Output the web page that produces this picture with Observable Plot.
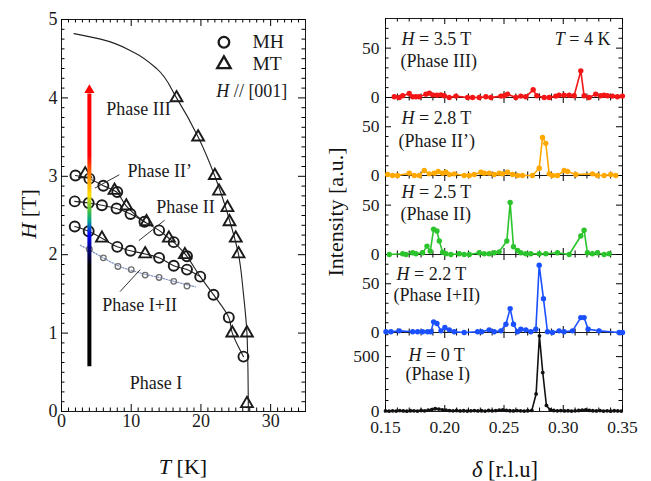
<!DOCTYPE html>
<html><head><meta charset="utf-8">
<script src="https://cdn.jsdelivr.net/npm/d3@7"></script>
<script src="https://cdn.jsdelivr.net/npm/@observablehq/plot@0.6"></script>
<style>
body{margin:0;background:#fff;}
#wrap{position:relative;width:651px;height:481px;font-family:"Liberation Serif","Times New Roman",serif;color:#111;overflow:hidden;}
#wrap svg{position:absolute;overflow:visible;}
.lab{position:absolute;font-size:22px;line-height:1;white-space:nowrap;}
</style></head><body><div id="wrap">
<div class="lab" style="left:29px;top:214px;transform:translate(-50%,-50%) rotate(-90deg)"><i>H</i> [T]</div>
<div class="lab" style="left:183px;top:467px;transform:translate(-50%,-50%)"><i>T</i> [K]</div>
<div class="lab" style="left:336px;top:212px;transform:translate(-50%,-50%) rotate(-90deg)">Intensity [a.u.]</div>
<div class="lab" style="left:505px;top:470px;transform:translate(-50%,-50%);font-size:22.5px"><i>δ</i> [r.l.u]</div>
</div>
<script>
// ---------- Left panel data: phase diagram (T [K], H [T]) ----------
const mhPoints = [[2.0,3.01],[4.0,2.97],[6.0,2.88],[8.0,2.80],
  [1.9,2.68],[3.9,2.66],[5.8,2.63],[7.9,2.59],[9.9,2.52],[11.9,2.42],[14.0,2.31],[16.1,2.16],[18.0,1.98],
  [1.9,2.36],[3.9,2.30],[8.0,2.10],[9.9,2.05],[14.0,1.96],[16.1,1.86],[18.0,1.81],
  [19.9,1.72],[21.8,1.49],[24.0,1.20],[26.1,0.70]];
const mtPoints = [[3.4,3.03],[7.6,2.82],[9.3,2.62],[12.2,2.42],[15.4,2.21],[17.7,2.00],[5.8,2.21],[12.0,2.01],[24.5,1.00],
  [16.5,4.00],[19.6,3.50],[22.0,3.01],[22.6,2.81],[23.8,2.60],[24.1,2.42],[25.0,2.21],[25.4,2.01],[26.6,1.00],[26.6,0.10]];
const smallMH = [[4.0,2.07],[6.0,1.96],[8.1,1.85],[10.0,1.81],[12.0,1.74],[14.0,1.71],[16.1,1.66],[18.0,1.60]];
const lineIII = [[1.8,4.82],[5.6,4.75],[10.4,4.58],[13.7,4.37],[16.5,4.0],[19.6,3.5],[22.0,3.0],[23.9,2.5],[25.4,2.0],[26.1,1.5],[26.6,1.0],[26.75,0.5],[26.8,0]];
const lineA = [[2.0,3.01],[4.0,2.97],[6.0,2.88],[7.9,2.80],[9.3,2.62],[11.9,2.42],[14.0,2.31],[15.4,2.21],[16.1,2.16],[17.8,2.00],[19.9,1.72],[21.8,1.49],[24.0,1.20],[24.5,1.00],[26.1,0.70]];
const lineB = [[1.9,2.68],[3.9,2.66],[5.8,2.63],[7.9,2.59],[9.9,2.52],[11.9,2.42]];
const lineC = [[1.9,2.36],[3.9,2.30],[5.8,2.21],[8.0,2.10],[9.9,2.05],[12.0,2.01],[14.0,1.96],[16.1,1.86],[18.0,1.81],[19.9,1.72]];
const lineDot = [[2.7,2.12],[4.0,2.06],[6.0,1.96],[8.1,1.86],[10.0,1.80],[12.0,1.75],[14.0,1.71],[16.1,1.66],[19.2,1.59]];
const arrowT = 4, arrowH = [0.57, 4.05];
const phaseLabels = ["Phase III","Phase II’","Phase II","Phase I+II","Phase I"];
const legendLabels = ["MH","MT"];
const xTicksL = [0,10,20,30], yTicksL = [0,1,2,3,4,5];

// ---------- Right panel data: δ [r.l.u], intensity [a.u.] ----------
const redD = [0.1574,0.1616,0.1645,0.1700,0.1729,0.1757,0.1785,0.1841,0.1870,0.1898,0.1934,0.1968,0.1996,0.2038,0.2094,0.2193,0.2235,0.2291,0.2347,0.2390,0.2474,0.2502,0.2530,0.2600,0.2642,0.2684,0.2746,0.2777,0.2839,0.2881,0.2937,0.2965,0.3007,0.3050,0.3092,0.3148,0.3176,0.3218,0.3274,0.3317,0.3345,0.3373,0.3415,0.3457,0.3499];
const redI = [0.7,0,1.7,4,0.7,0.7,0.7,3.4,4.4,2.7,2.4,2.7,1.7,0,1.4,0,0,0,0.7,0,1.4,1.7,3.4,0,1.4,0.7,7.8,1.7,0,0,1.4,2.4,2.4,2.4,1.7,27,1.7,0,3.4,1.7,2.4,1.7,1.4,0.7,1.4];
const orangeD = [0.1518,0.1560,0.1602,0.1701,0.1743,0.1785,0.1827,0.1869,0.1912,0.1945,0.1982,0.2010,0.2038,0.2080,0.2164,0.2207,0.2249,0.2305,0.2333,0.2375,0.2417,0.2459,0.2488,0.2530,0.2572,0.2614,0.2656,0.2740,0.2797,0.2825,0.2853,0.2881,0.2909,0.2951,0.3007,0.3036,0.3106,0.3246,0.3288,0.3345,0.3401,0.3443];
const orangeI = [1.0,0,0,2.4,0,0,5.1,1.7,2.4,4.1,2.4,3.4,1.0,1.7,0,0,1.0,3.4,2.4,2.4,1.0,2.4,1.7,3.4,1.0,0,0,0,7.5,39,33,1.7,0,0,5.1,4.1,1.0,1.7,0,0,1.0,0];
const greenD = [0.1532,0.1645,0.1673,0.1729,0.1757,0.1813,0.1850,0.1878,0.1906,0.1934,0.1954,0.1982,0.2010,0.2052,0.2122,0.2164,0.2207,0.2291,0.2333,0.2375,0.2417,0.2459,0.2524,0.2552,0.2580,0.2614,0.2642,0.2684,0.2726,0.2797,0.2853,0.2951,0.3050,0.3148,0.3176,0.3204,0.3246,0.3288,0.3345,0.3387];
const greenI = [0,0.7,0,1.7,0.7,1.7,8.5,3.4,25.5,23.8,13.6,2.4,0.7,0,0.7,0,0,1.7,0.7,0.7,1.7,2.7,13.6,52.7,7.8,4.1,1.7,0.7,0.7,0.7,0.7,1.7,0,18.7,24.5,1.7,0.7,1.7,0,0.7];
const blueD = [0.1504,0.1546,0.1616,0.1729,0.1771,0.1813,0.1855,0.1883,0.1906,0.1934,0.1968,0.2001,0.2038,0.2080,0.2164,0.2277,0.2311,0.2375,0.2417,0.2474,0.2516,0.2552,0.2580,0.2614,0.2642,0.2684,0.2726,0.2769,0.2797,0.2833,0.2867,0.2909,0.2965,0.3007,0.3078,0.3148,0.3176,0.3210,0.3302,0.3471,0.3500];
const blueI = [0.7,0.7,1.7,0.7,0.7,0.7,0.7,0.7,10.9,9.2,1.7,5.1,2.7,0.7,0,0.7,0.7,2.7,0.7,1.7,8.5,24.5,8.5,0.7,3.4,2.7,0.7,3.4,69,34.7,0.7,0,1.7,0.7,1.7,15.3,15.3,3.4,1.7,0,0];
const blackD = [0.150,0.153,0.156,0.159,0.162,0.165,0.168,0.171,0.174,0.177,0.180,0.183,0.186,0.189,0.192,0.195,0.198,0.201,0.204,0.207,0.210,0.213,0.216,0.219,0.222,0.225,0.228,0.231,0.234,0.237,0.240,0.243,0.246,0.249,0.252,0.255,0.258,0.261,0.264,0.267,0.270,0.2735,0.2771,0.2799,0.2827,0.2858,0.289,0.292,0.295,0.298,0.301,0.304,0.307,0.310,0.313,0.316,0.319,0.322,0.325,0.328,0.331,0.334,0.337,0.340,0.343,0.346,0.349];
const blackI = [5,3,6,4,8,5,3,7,6,4,9,6,12,18,25,22,15,12,8,6,9,5,7,4,6,8,5,7,4,9,6,8,12,15,10,7,5,8,6,4,7,10,160,690,355,55,15,9,6,8,5,7,4,6,9,13,15,10,7,5,8,4,6,3,7,5,4];
const xTicksR = [0.15,0.20,0.25,0.30,0.35];
const fieldLabels = ["*H* = 3.5 T","*H* = 2.8 T","*H* = 2.5 T","*H* = 2.2 T","*H* = 0 T"];
const phaseNames = ["(Phase III)","(Phase II’)","(Phase II)","(Phase I+II)","(Phase I)"];

// ---------- helpers ----------
const wrap = document.getElementById("wrap");
const serif = '"Liberation Serif", "Times New Roman", serif';
const X = d => d[0], Y = d => d[1];
const ink = "#1a1a1a";

function italicize(svg) {
  svg.querySelectorAll("text").forEach(t => {
    const els = t.querySelector("tspan") ? Array.from(t.querySelectorAll("tspan")) : [t];
    els.forEach(el => {
      const s = el.textContent;
      if (!s.includes("*")) return;
      el.textContent = "";
      s.split("*").forEach((part, i) => {
        if (!part) return;
        const ts = document.createElementNS("http://www.w3.org/2000/svg", "tspan");
        if (i % 2) ts.setAttribute("font-style", "italic");
        ts.textContent = part;
        el.appendChild(ts);
      });
    });
  });
}
function place(svg, left, top) {
  svg.style.position = "absolute";
  svg.style.left = left + "px";
  svg.style.top = top + "px";
  svg.style.overflow = "visible";
  italicize(svg);
  wrap.appendChild(svg);
}
// inward ticks on all four sides; lengths in pixels converted through the frame size
function frameTicks(xd, yd, fw, fh, xMaj, xMin, yMaj, yMin, lMaj, lMin) {
  const o = {stroke: "#000", strokeWidth: 1};
  const ky = (yd[1] - yd[0]) / fh, kx = (xd[1] - xd[0]) / fw;
  const m = [];
  [[xMaj, lMaj], [xMin, lMin]].forEach(([t, l]) => {
    m.push(Plot.ruleX(t, {x: d => d, y1: yd[0], y2: yd[0] + l * ky, ...o}));
    m.push(Plot.ruleX(t, {x: d => d, y1: yd[1], y2: yd[1] - l * ky, ...o}));
  });
  [[yMaj, lMaj], [yMin, lMin]].forEach(([t, l]) => {
    m.push(Plot.ruleY(t, {y: d => d, x1: xd[0], x2: xd[0] + l * kx, ...o}));
    m.push(Plot.ruleY(t, {y: d => d, x1: xd[1], x2: xd[1] - l * kx, ...o}));
  });
  return m;
}

// ---------- Left panel ----------
const LW = 330, LH = 481, lm = {l: 61, r: 25, t: 19, b: 70};
const lfw = LW - lm.l - lm.r, lfh = LH - lm.t - lm.b;
const xdL = [0, 35], ydL = [0, 5];
const xMinL = d3.range(1, 35, 1).filter(v => v % 10 !== 0);
const yMinL = d3.range(0.125, 5, 0.125).filter(v => Math.abs(v - Math.round(v)) > 1e-6);
const txt = {fontFamily: serif, fill: ink, stroke: null};

const left = Plot.plot({
  width: LW, height: LH,
  marginLeft: lm.l, marginRight: lm.r, marginTop: lm.t, marginBottom: lm.b,
  x: {domain: xdL}, y: {domain: ydL},
  style: {fontFamily: serif, fontSize: "17.5px", color: ink, background: "none", overflow: "visible"},
  marks: [
    Plot.frame({stroke: ink, strokeWidth: 1}),
    ...frameTicks(xdL, ydL, lfw, lfh, xTicksL, xMinL, yTicksL, yMinL, 7, 3.5),
    Plot.axisX(xTicksL, {anchor: "bottom", tickSize: 0, tickPadding: 3, label: null, fontSize: 18, fontFamily: serif, tickFormat: d3.format("d")}),
    Plot.axisY(yTicksL, {anchor: "left", tickSize: 0, tickPadding: 4, label: null, fontSize: 18, fontFamily: serif, tickFormat: d3.format("d")}),
    Plot.line(lineIII, {x: X, y: Y, curve: "monotone-y", stroke: "#222", strokeWidth: 1.1}),
    Plot.line(lineA, {x: X, y: Y, curve: "catmull-rom", stroke: "#222", strokeWidth: 1.1}),
    Plot.line(lineB, {x: X, y: Y, curve: "catmull-rom", stroke: "#222", strokeWidth: 1.1}),
    Plot.line(lineC, {x: X, y: Y, curve: "catmull-rom", stroke: "#222", strokeWidth: 1.1}),
    Plot.line(lineDot, {x: X, y: Y, curve: "catmull-rom", stroke: "#8494c4", strokeWidth: 1.3, strokeDasharray: "1.3 1.7"}),
    Plot.dot(smallMH, {x: X, y: Y, r: 2.8, stroke: "#6e6e6e", strokeWidth: 1.3, fill: "none"}),
    Plot.dot(mhPoints, {x: X, y: Y, r: 5, stroke: ink, strokeWidth: 1.9, fill: "none"}),
    Plot.dot(mtPoints, {x: X, y: Y, r: 4.4, symbol: "triangle", stroke: ink, strokeWidth: 1.9, fill: "none"}),
    // leader lines
    Plot.link([[8.3,3.02,4.8,2.85],[14.8,2.44,11.1,2.18],[11.3,1.81,8.4,1.53]],
      {x1: d => d[0], y1: d => d[1], x2: d => d[2], y2: d => d[3], stroke: "#333", strokeWidth: 1}),
    // phase labels
    Plot.text(phaseLabels, {x: [11.05, 14.1, 17.8, 11.2, 13.55], y: [3.86, 3.07, 2.61, 1.35, 0.36], text: d => d, fontSize: 18, ...txt}),
    // legend
    Plot.dot([[23.3, 4.71]], {x: X, y: Y, r: 5.3, stroke: ink, strokeWidth: 2.3, fill: "none"}),
    Plot.dot([[23.3, 4.43]], {x: X, y: Y, r: 5, symbol: "triangle", stroke: ink, strokeWidth: 2.3, fill: "none"}),
    Plot.text(legendLabels, {x: 27.4, y: [4.71, 4.43], text: d => d, textAnchor: "start", fontSize: 19.5, ...txt}),
    Plot.text(["*H* // [001]"], {x: 32.4, y: 4.09, text: d => d, textAnchor: "end", fontSize: 18, ...txt}),
    // field sweep arrow at T = 4 K
    Plot.ruleX([arrowT], {y1: arrowH[0], y2: arrowH[1], stroke: "url(#arrowGrad)", strokeWidth: 4}),
    Plot.dot([[arrowT, 4.1]], {x: X, y: Y, symbol: "triangle", r: 3.8, fill: "#ff0000", stroke: "none"})
  ]
});
{
  const ys = left.scale("y");
  const y0 = ys.apply(arrowH[0]), y1 = ys.apply(arrowH[1]);
  const off = h => ((h - arrowH[0]) / (arrowH[1] - arrowH[0])).toFixed(4);
  const stops = [[0.57,"#000000"],[1.85,"#000000"],[2.05,"#000070"],[2.25,"#0000ff"],[2.42,"#00a090"],[2.55,"#40c040"],[2.75,"#ffe000"],[2.95,"#ffa000"],[3.25,"#ff0000"],[4.05,"#ff0000"]];
  const ns = "http://www.w3.org/2000/svg";
  const defs = document.createElementNS(ns, "defs");
  const g = document.createElementNS(ns, "linearGradient");
  g.setAttribute("id", "arrowGrad");
  g.setAttribute("gradientUnits", "userSpaceOnUse");
  g.setAttribute("x1", 0); g.setAttribute("x2", 0);
  g.setAttribute("y1", y0); g.setAttribute("y2", y1);
  stops.forEach(([h, c]) => {
    const s = document.createElementNS(ns, "stop");
    s.setAttribute("offset", off(h));
    s.setAttribute("stop-color", c);
    g.appendChild(s);
  });
  defs.appendChild(g);
  left.appendChild(defs);
}
place(left, 0, 0);

// ---------- Right panels ----------
const RW = 331, rml = 65, rmr = 29, rfw = RW - rml - rmr;
const xdR = [0.15, 0.35];
const xMinR = d3.range(0.16, 0.35, 0.01).filter(v => Math.abs(v * 20 - Math.round(v * 20)) > 1e-6);
const panels = [
  {d: redD, i: redI, color: "#f41616", ymax: 80, yt: [0, 50], ym: [10,20,30,40,60,70], top: 18, h: 79, r: 2.7, t1: [16, 21], t2: [15, 43]},
  {d: orangeD, i: orangeI, color: "#ffa800", ymax: 80, yt: [0, 50], ym: [10,20,30,40,60,70], top: 97, h: 78, r: 2.7, t1: [16, 21], t2: [13, 43.5]},
  {d: greenD, i: greenI, color: "#2cc42c", ymax: 80, yt: [0, 50], ym: [10,20,30,40,60,70], top: 175, h: 79, r: 2.7, t1: [16, 17], t2: [15, 39]},
  {d: blueD, i: blueI, color: "#1a50ff", ymax: 80, yt: [0, 50], ym: [10,20,30,40,60,70], top: 254, h: 78, r: 2.7, t1: [11, 19.5], t2: [8, 41]},
  {d: blackD, i: blackI, color: "#111111", ymax: 720, yt: [0, 500], ym: [100,200,300,400,600,700], top: 332, h: 79, r: 1.9, t1: [23, 22.5], t2: [20, 42]}
];
const rightSvgs = panels.map((p, k) => {
  const data = p.d.map((d, j) => ({d, v: p.i[j]}));
  const last = k === panels.length - 1;
  const yd = [0, p.ymax];
  const marks = [
    Plot.frame({stroke: ink, strokeWidth: 1}),
    ...frameTicks(xdR, yd, rfw, p.h, xTicksR, xMinR, p.yt, p.ym, 6, 3.5),
    Plot.axisY(p.yt, {anchor: "left", tickSize: 0, tickPadding: 6, label: null, fontSize: 17.5, fontFamily: serif, tickFormat: d3.format("d")}),
    last
      ? Plot.axisX(xTicksR, {anchor: "bottom", tickSize: 0, tickPadding: 9, label: null, fontSize: 17.5, fontFamily: serif, tickFormat: d3.format(".2f")})
      : Plot.axisX([], {anchor: "bottom", tickSize: 0, label: null}),
    Plot.line(data, {x: "d", y: "v", stroke: p.color, strokeWidth: 1.6}),
    Plot.dot(data, {x: "d", y: "v", r: p.r, fill: p.color, stroke: "none"}),
    Plot.text([fieldLabels[k]], {frameAnchor: "top-left", dx: p.t1[0], dy: p.t1[1], textAnchor: "start", lineAnchor: "middle", fontSize: 18, ...txt}),
    Plot.text([phaseNames[k]], {frameAnchor: "top-left", dx: p.t2[0], dy: p.t2[1], textAnchor: "start", lineAnchor: "middle", fontSize: 18, ...txt})
  ];
  if (k === 0) marks.push(Plot.text(["*T* = 4 K"], {frameAnchor: "top-right", dx: -12, dy: 21, textAnchor: "end", lineAnchor: "middle", fontSize: 18, ...txt}));
  const svg = Plot.plot({
    width: RW, height: p.h,
    marginLeft: rml, marginRight: rmr, marginTop: 0, marginBottom: 0,
    x: {domain: xdR}, y: {domain: yd},
    style: {fontFamily: serif, fontSize: "17.5px", color: ink, background: "none", overflow: "visible"},
    marks
  });
  return {svg, top: p.top};
});
for (let k = rightSvgs.length - 1; k >= 0; k--) place(rightSvgs[k].svg, 320, rightSvgs[k].top);
</script>
</body></html>
